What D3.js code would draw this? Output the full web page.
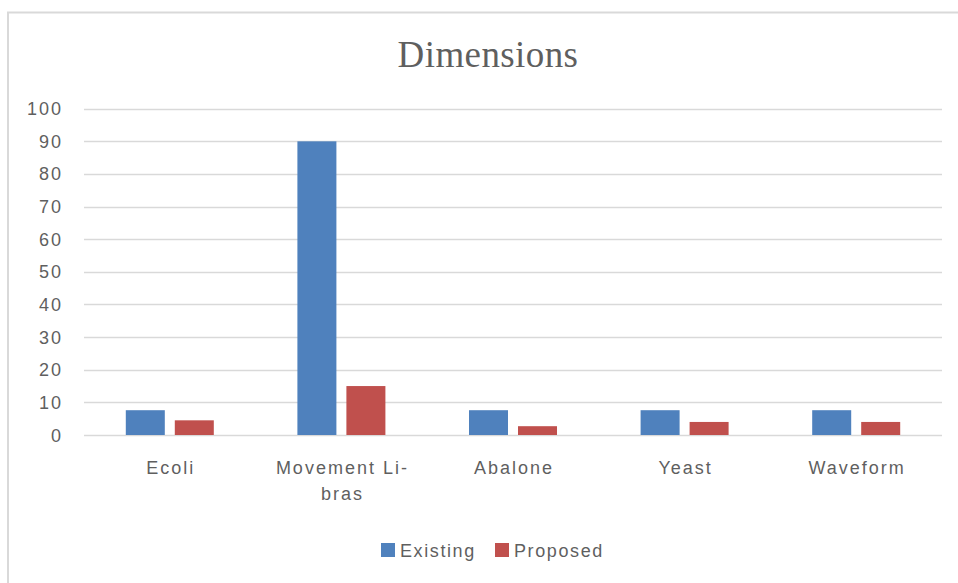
<!DOCTYPE html>
<html>
<head>
<meta charset="utf-8">
<script src="https://cdn.jsdelivr.net/npm/d3@7"></script>
<style>
  html, body { margin: 0; padding: 0; background: #fff; }
  svg { display: block; }
</style>
</head>
<body>
<svg id="chart" width="958" height="583"></svg>
<script>
const categories = ["Ecoli", "Movement Li-bras", "Abalone", "Yeast", "Waveform"];
const categoryLines = [["Ecoli"], ["Movement Li-", "bras"], ["Abalone"], ["Yeast"], ["Waveform"]];
const seriesNames = ["Existing", "Proposed"];
const existingValues = [7.6, 90, 7.6, 7.6, 7.6];
const proposedValues = [4.5, 15, 2.7, 4, 4];
const yTicks = [0, 10, 20, 30, 40, 50, 60, 70, 80, 90, 100];
const colors = ["#4f81bd", "#c0504d"];

(function () {
const svg = d3.select("#chart");
const textColor = "#5f5f5f";
const sans = "'Liberation Sans', Arial, sans-serif";

// outer chart border
svg.append("rect")
  .attr("x", 8).attr("y", 12.5)
  .attr("width", 980).attr("height", 600)
  .attr("fill", "#fff")
  .attr("stroke", "#d9d9d9").attr("stroke-width", 2);

// title
svg.append("text")
  .attr("x", 488).attr("y", 67)
  .attr("text-anchor", "middle")
  .attr("font-family", "'Liberation Serif', 'DejaVu Serif', serif")
  .attr("font-size", 37)
  .attr("letter-spacing", 0.4)
  .attr("fill", textColor)
  .text("Dimensions");

const plotLeft = 84, plotRight = 942, plotTop = 108.7, plotBottom = 435;

const y = d3.scaleLinear().domain([0, 100]).range([plotBottom, plotTop]);
const x0 = d3.scaleBand().domain(categories).range([plotLeft, plotRight]).padding(0);
const x1 = d3.scaleBand().domain(seriesNames).range([0, x0.bandwidth()])
  .paddingInner(0.204).paddingOuter(0.853);

// gridlines
svg.append("g").selectAll("line").data(yTicks).join("line")
  .attr("x1", plotLeft).attr("x2", plotRight)
  .attr("y1", d => Math.round(y(d)) + 0.5).attr("y2", d => Math.round(y(d)) + 0.5)
  .attr("stroke", "#d9d9d9").attr("stroke-width", 1.5);

// y tick labels
svg.append("g").selectAll("text").data(yTicks).join("text")
  .attr("x", 63).attr("y", d => y(d) + 6.5)
  .attr("text-anchor", "end")
  .attr("font-family", sans).attr("font-size", 18)
  .attr("letter-spacing", 2)
  .attr("fill", textColor)
  .text(d => d);

// bars
const data = categories.map((c, i) => ({c, vals: [existingValues[i], proposedValues[i]]}));
const groups = svg.append("g").selectAll("g").data(data).join("g")
  .attr("transform", d => `translate(${x0(d.c)},0)`);
groups.selectAll("rect").data(d => d.vals.map((v, j) => ({s: seriesNames[j], v, j})))
  .join("rect")
  .attr("x", d => x1(d.s))
  .attr("width", x1.bandwidth())
  .attr("y", d => y(d.v))
  .attr("height", d => y(0) - y(d.v))
  .attr("fill", d => colors[d.j]);

// category labels
const catG = svg.append("g").selectAll("text").data(categories).join("text")
  .attr("x", d => x0(d) + x0.bandwidth() / 2)
  .attr("y", 474)
  .attr("text-anchor", "middle")
  .attr("font-family", sans).attr("font-size", 18)
  .attr("letter-spacing", 2)
  .attr("fill", textColor);
catG.each(function(d, i) {
  const t = d3.select(this);
  categoryLines[i].forEach((line, k) => {
    t.append("tspan")
      .attr("x", x0(d) + x0.bandwidth() / 2 + 1)
      .attr("dy", k === 0 ? 0 : 26)
      .text(line);
  });
});

// legend
const legendX = [381, 495];
const lg = svg.append("g").selectAll("g").data(seriesNames).join("g")
  .attr("transform", (d, i) => `translate(${legendX[i]},0)`);
lg.append("rect")
  .attr("x", 0).attr("y", 543).attr("width", 14).attr("height", 14)
  .attr("fill", (d, i) => colors[i]);
lg.append("text")
  .attr("x", 19).attr("y", 557)
  .attr("font-family", sans).attr("font-size", 18)
  .attr("letter-spacing", 1.6)
  .attr("fill", textColor)
  .text(d => d);
})();
</script>
</body>
</html>
